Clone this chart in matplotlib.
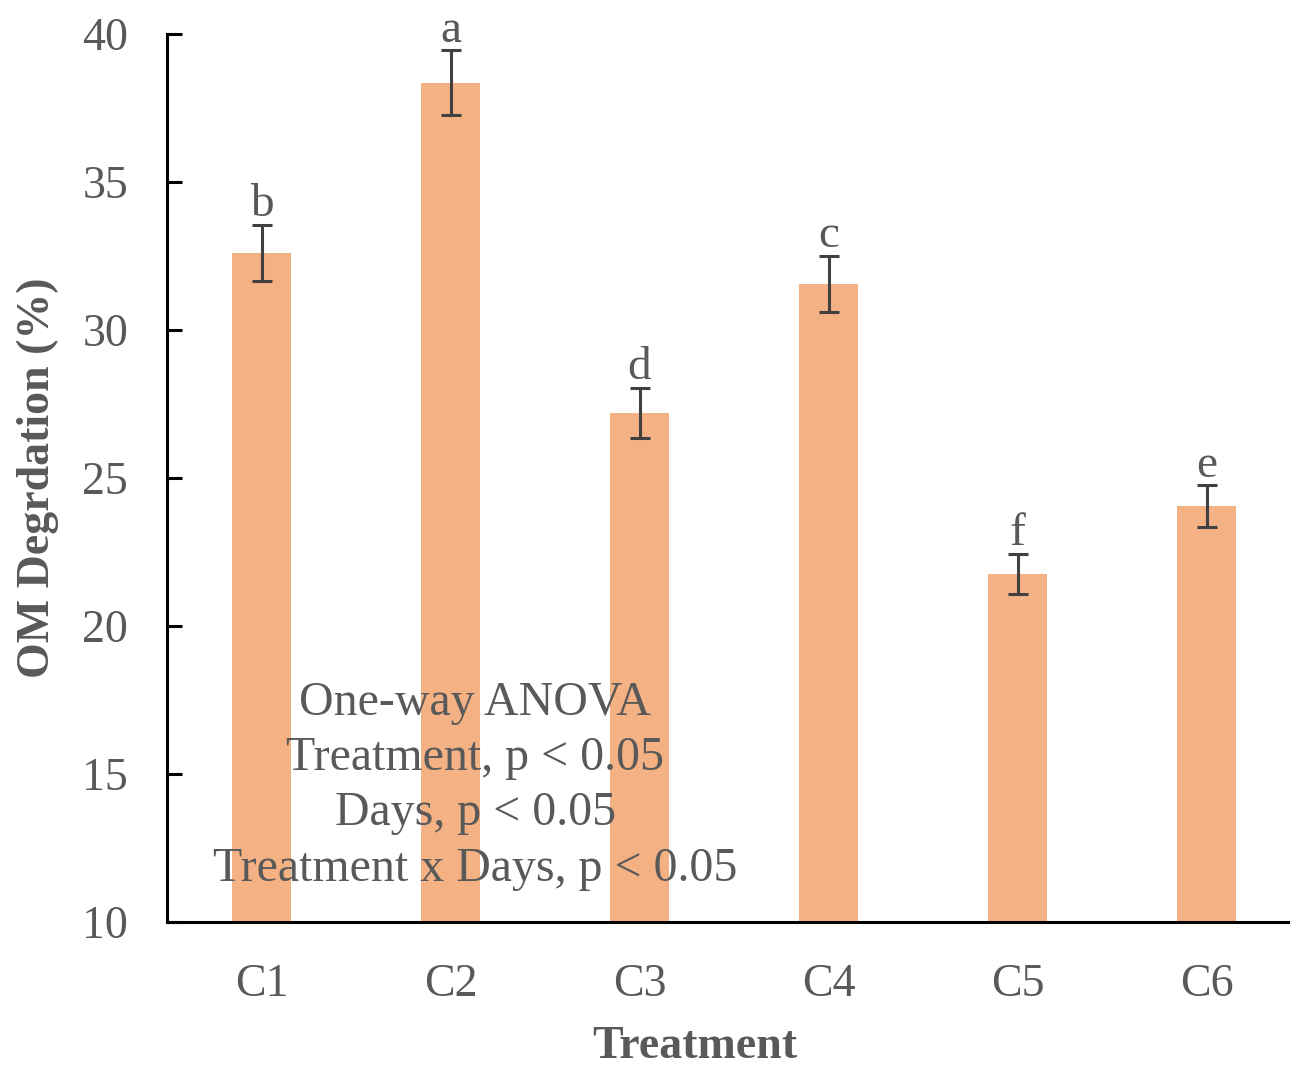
import numpy as np
import matplotlib.pyplot as plt

plt.rcParams['font.family'] = ['Liberation Serif', 'DejaVu Serif']

treatments = ['C1', 'C2', 'C3', 'C4', 'C5', 'C6']
om_deg = [32.6, 38.35, 27.2, 31.55, 21.75, 24.05]
om_err = [0.95, 1.1, 0.85, 0.95, 0.68, 0.7]
letters = ['b', 'a', 'd', 'c', 'f', 'e']

grey = '#595959'

fig = plt.figure(figsize=(12.9, 10.69), dpi=100)
ax = fig.add_axes([167 / 1290, 147 / 1069, 1134 / 1290, 888 / 1069])

x = np.arange(len(treatments))
ax.bar(x, om_deg, width=0.31, color='#F4B183', zorder=2)
ax.errorbar(x, om_deg, yerr=om_err, fmt='none', ecolor='#404040',
            elinewidth=2.2, capsize=7, capthick=2.2, zorder=3)

# significance letters just above the error bars
for xi, v, e, lab in zip(x, om_deg, om_err, letters):
    ax.annotate(lab, (xi, v + e), xytext=(0, -1), textcoords='offset points',
                ha='center', va='bottom', fontsize=34, color=grey, zorder=4)

ax.text(1.13, 14.6,
        'One-way ANOVA\nTreatment, p < 0.05\nDays, p < 0.05\nTreatment x Days, p < 0.05',
        ha='center', va='center', multialignment='center', fontsize=34.5,
        color=grey, linespacing=1.33, zorder=5)

ax.set_xlim(-0.5, 5.5)
ax.set_ylim(10, 40)
ax.set_yticks(np.arange(10, 41, 5))
ax.set_xticks(x)
ax.set_xticklabels(treatments)

ax.spines['top'].set_visible(False)
ax.spines['right'].set_visible(False)
for s in ['left', 'bottom']:
    ax.spines[s].set_linewidth(2.2)
    ax.spines[s].set_color('black')

ax.tick_params(axis='y', direction='in', length=11, width=2.2, pad=28,
               labelsize=33, labelcolor=grey)
ax.tick_params(axis='x', length=0, pad=30, labelsize=33, labelcolor=grey)

ax.set_ylabel('OM Degrdation (%)', fontsize=33, fontweight='bold', color=grey)
ax.yaxis.set_label_coords(-108 / 1134, 0.5)
fig.text(695 / 1290, 22 / 1069, 'Treatment', ha='center', va='center',
         fontsize=33, fontweight='bold', color=grey)

fig.savefig('out.png', dpi=100)
